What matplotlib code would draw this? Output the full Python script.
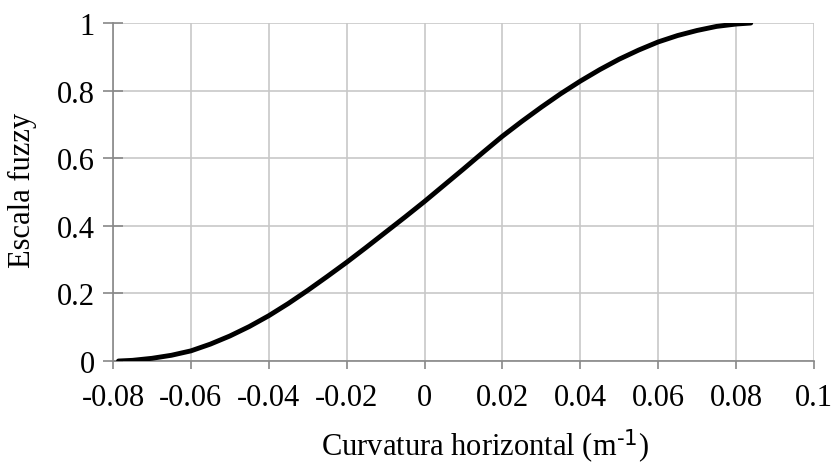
import matplotlib.pyplot as plt
import numpy as np

# curve
curv = [-0.0786, -0.075, -0.07, -0.065, -0.06, -0.055, -0.05, -0.045, -0.04,
        -0.035, -0.03, -0.025, -0.02, -0.015, -0.01, -0.005, 0.0, 0.005,
        0.01, 0.015, 0.02, 0.025, 0.03, 0.035, 0.04, 0.045, 0.05, 0.055,
        0.06, 0.065, 0.07, 0.075, 0.08, 0.0838]
fuzzy = [0.0, 0.002, 0.008, 0.017, 0.030, 0.050, 0.074, 0.102, 0.134,
         0.170, 0.209, 0.250, 0.292, 0.336, 0.381, 0.426, 0.472, 0.520,
         0.568, 0.617, 0.665, 0.709, 0.751, 0.791, 0.828, 0.862, 0.893, 0.920,
         0.944, 0.963, 0.978, 0.990, 0.997, 1.0]

xticks = [-0.08, -0.06, -0.04, -0.02, 0, 0.02, 0.04, 0.06, 0.08, 0.1]
xtick_labels = ['-0.08', '-0.06', '-0.04', '-0.02', '0', '0.02', '0.04', '0.06', '0.08', '0.1']
yticks = [0, 0.2, 0.4, 0.6, 0.8, 1]
ytick_labels = ['0', '0.2', '0.4', '0.6', '0.8', '1']

plt.rcParams['font.family'] = ['Liberation Serif', 'DejaVu Serif']
plt.rcParams['axes.unicode_minus'] = False
plt.rcParams['mathtext.default'] = 'regular'

fig = plt.figure(figsize=(8.33, 4.64), dpi=100)
ax = fig.add_axes([0.1357, 0.2198, 0.8413, 0.7284])

ax.plot(curv, fuzzy, color='black', lw=3.5, solid_capstyle='round',
        solid_joinstyle='round', zorder=3)

ax.set_xlim(-0.08, 0.1)
ax.set_ylim(0, 1)
ax.set_xticks(xticks, xtick_labels)
ax.set_yticks(yticks, ytick_labels)
ax.grid(True, color='#c8c8c8', lw=1.2)
ax.set_axisbelow(True)

for s in ['top', 'right']:
    ax.spines[s].set_visible(False)
for s in ['left', 'bottom']:
    ax.spines[s].set_color('#888888')
    ax.spines[s].set_linewidth(1.2)

ax.tick_params(axis='x', direction='out', length=6, width=1.2, color='#888888',
               labelsize=22, pad=10)
ax.tick_params(axis='y', direction='inout', length=14, width=1.2, color='#888888',
               labelsize=22, pad=6)

ax.set_xlabel('Curvatura horizontal (m$^{\\text{-1}}$)', fontsize=22)
ax.xaxis.set_label_coords(0.53, -0.192, transform=ax.transAxes)
ax.set_ylabel('Escala fuzzy', fontsize=22)
ax.yaxis.set_label_coords(-0.108, 0.509, transform=ax.transAxes)

plt.savefig('out.png', dpi=100)
